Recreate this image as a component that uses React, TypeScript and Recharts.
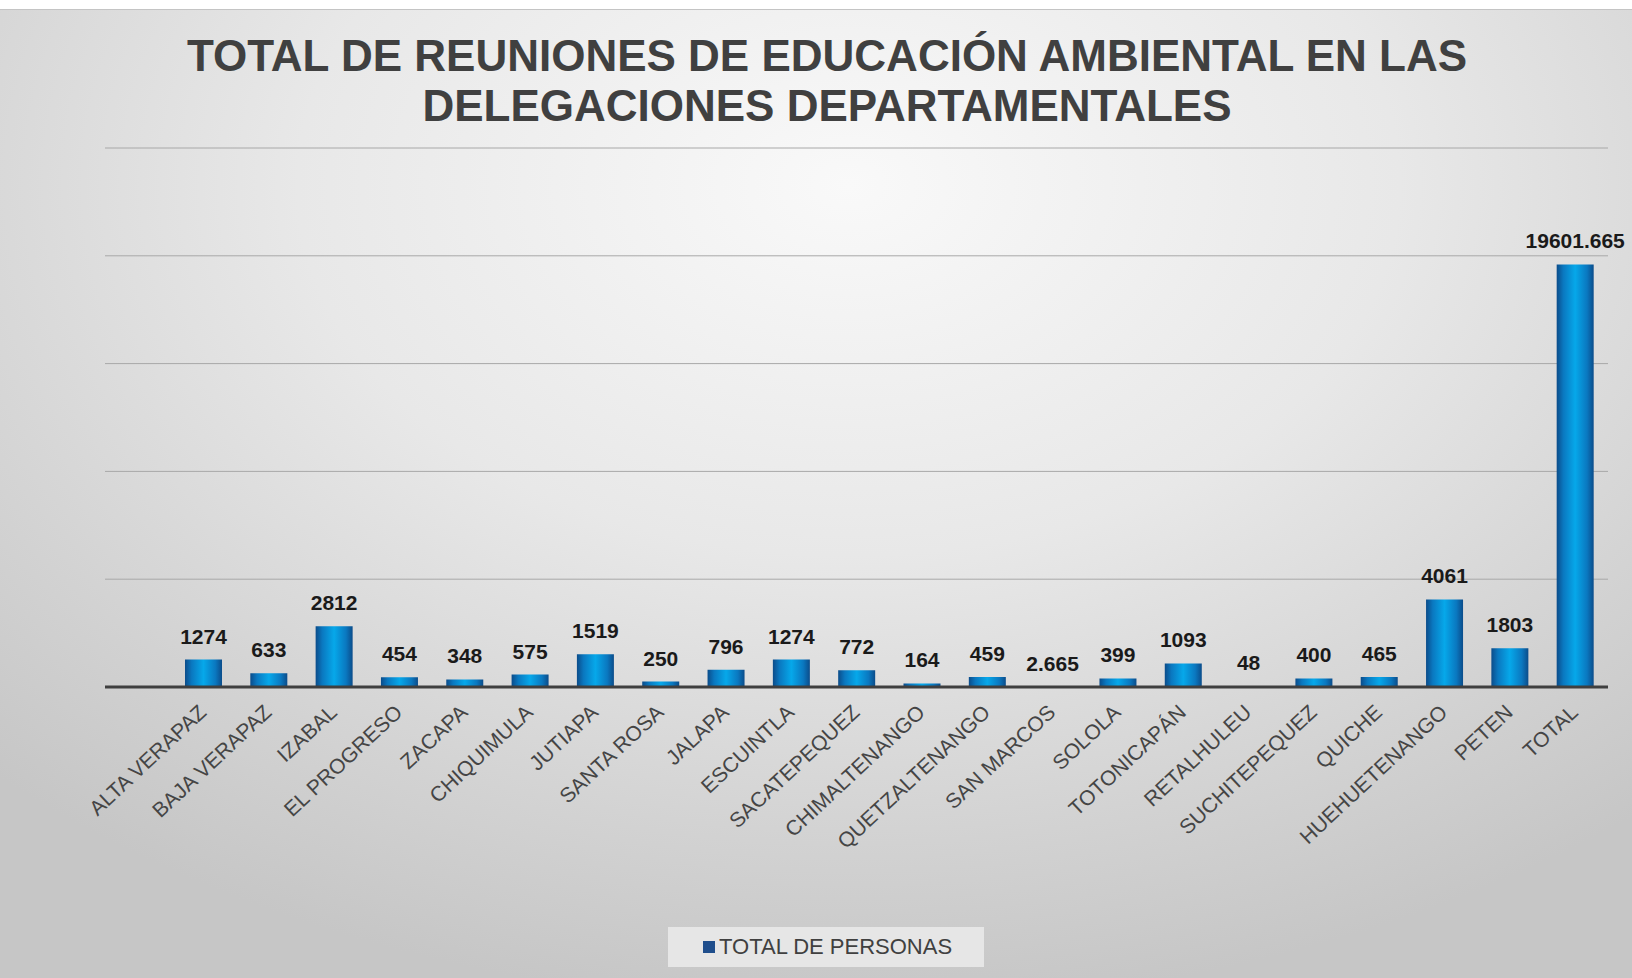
import { Bar, BarChart, CartesianGrid, LabelList, XAxis, YAxis } from "recharts";

const departamentos = [
  "ALTA VERAPAZ",
  "BAJA VERAPAZ",
  "IZABAL",
  "EL PROGRESO",
  "ZACAPA",
  "CHIQUIMULA",
  "JUTIAPA",
  "SANTA ROSA",
  "JALAPA",
  "ESCUINTLA",
  "SACATEPEQUEZ",
  "CHIMALTENANGO",
  "QUETZALTENANGO",
  "SAN MARCOS",
  "SOLOLA",
  "TOTONICAPÁN",
  "RETALHULEU",
  "SUCHITEPEQUEZ",
  "QUICHE",
  "HUEHUETENANGO",
  "PETEN",
  "TOTAL"
];

const totalPersonas = [
  1274, 633, 2812, 454, 348, 575, 1519, 250, 796, 1274, 772, 164, 459, 2.665, 399, 1093, 48, 400,
  465, 4061, 1803, 19601.665
];

const yTicks = [0, 5000, 10000, 15000, 20000, 25000];

const data = departamentos.map((name, i) => ({ name, personas: totalPersonas[i] }));

const font = "'Liberation Sans', Arial, sans-serif";

function AngledTick({ x, y, payload }: any) {
  return (
    <g transform={`translate(${x + 4},${y + 19})`}>
      <text
        textAnchor="end"
        transform="rotate(-43)"
        fill="#454545"
        fontSize={21}
        fontFamily={font}
      >
        {payload.value}
      </text>
    </g>
  );
}

export default function App() {
  return (
    <div style={{ position: "relative", width: 1632, height: 978, background: "#ffffff" }}>
      <style>{"body{margin:0}"}</style>
      <div
        style={{
          position: "absolute",
          left: 0,
          top: 9,
          width: 1632,
          height: 969,
          borderTop: "1px solid #c4c4c4",
          background:
            "radial-gradient(ellipse 75% 85% at 52% 18%, #f9f9f9 0%, #e8e8e8 45%, #d2d2d2 80%, #c6c6c6 100%)"
        }}
      />
      <div
        style={{
          position: "absolute",
          left: 0,
          top: 31,
          width: 1654,
          textAlign: "center",
          fontFamily: font,
          fontWeight: 700,
          fontSize: 44,
          lineHeight: "50px",
          color: "#404040"
        }}
      >
        TOTAL DE REUNIONES DE EDUCACIÓN AMBIENTAL EN LAS
        <br />
        DELEGACIONES DEPARTAMENTALES
      </div>
      <div style={{ position: "absolute", left: 0, top: 0 }}>
        <BarChart
          width={1632}
          height={978}
          data={data}
          margin={{ top: 148, right: 24, left: 105, bottom: 0 }}
        >
          <defs>
            <linearGradient id="barFill" x1="0" y1="0" x2="1" y2="0">
              <stop offset="0%" stopColor="#0b4c8a" />
              <stop offset="18%" stopColor="#0a78c0" />
              <stop offset="50%" stopColor="#06a8ea" />
              <stop offset="82%" stopColor="#0a78c0" />
              <stop offset="100%" stopColor="#0b4c8a" />
            </linearGradient>
          </defs>
          <CartesianGrid vertical={false} stroke="#a8a8a8" strokeWidth={1} />
          <YAxis hide domain={[0, 25000]} ticks={yTicks} />
          <XAxis
            dataKey="name"
            interval={0}
            height={291}
            padding={{ left: 66, right: 0 }}
            axisLine={{ stroke: "#3f3f3f", strokeWidth: 3 }}
            tickLine={false}
            tick={<AngledTick />}
          />
          <Bar dataKey="personas" fill="url(#barFill)" barSize={37} isAnimationActive={false}>
            <LabelList
              dataKey="personas"
              position="top"
              offset={16}
              fill="#1a1a1a"
              fontSize={21}
              fontWeight={700}
              fontFamily={font}
            />
          </Bar>
        </BarChart>
      </div>
      <div
        style={{
          position: "absolute",
          left: 668,
          top: 927,
          width: 316,
          height: 40,
          background: "#e6e6e6",
          display: "flex",
          alignItems: "center",
          fontFamily: font,
          fontSize: 22,
          color: "#404040"
        }}
      >
        <span
          style={{
            display: "inline-block",
            width: 12,
            height: 12,
            background: "#1f4e8c",
            marginLeft: 35,
            marginRight: 4
          }}
        />
        TOTAL DE PERSONAS
      </div>
    </div>
  );
}
